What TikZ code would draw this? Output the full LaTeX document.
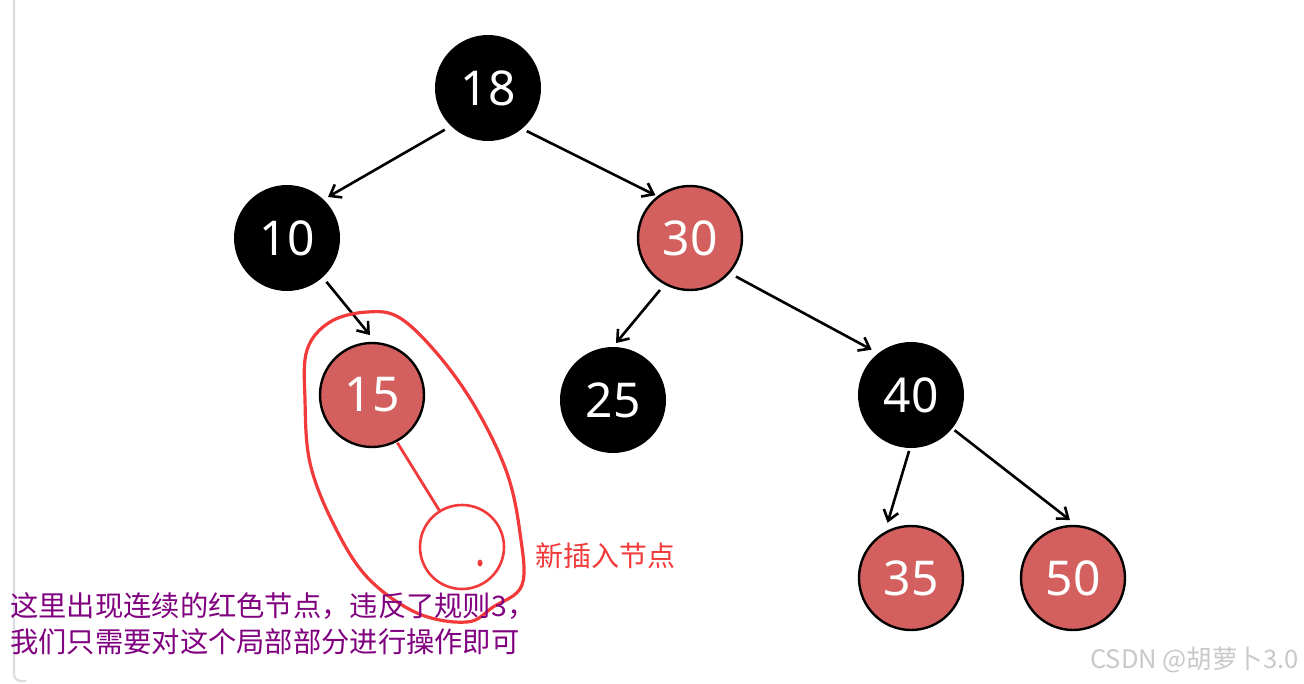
\documentclass[tikz,border=0pt]{standalone}
\usepackage{fontspec}
\setmainfont{Noto Sans}
\newfontfamily\cjk{Noto Sans CJK SC}
\usetikzlibrary{arrows.meta,calc}
\definecolor{nodered}{HTML}{D35F5F}
\definecolor{penred}{HTML}{F23A3A}
\definecolor{notepurple}{HTML}{800080}
\definecolor{marggray}{HTML}{DCDCE2}
\definecolor{wmgray}{HTML}{C9C9C9}
\begin{document}
\begin{tikzpicture}[x=1pt,y=-1pt,
  rbnode/.style={circle,minimum size=106pt,inner sep=0pt,font=\fontsize{48}{52}\selectfont,text=white},
  blk/.style={rbnode,fill=black},
  red/.style={rbnode,fill=nodered,draw=black,line width=2.4pt,minimum size=104pt},
  edge/.style={-{Straight Barb[length=10pt,width=15pt,line width=2.6pt]},line width=2.6pt,black},
  pen/.style={penred,line width=3.2pt}]
\useasboundingbox (0,0) rectangle (1304,683);
\fill[white] (0,0) rectangle (1304,683);
\draw[marggray,line width=2.2pt,rounded corners=7pt] (14,-5) -- (14,681) -- (26,681);
\node[blk] (n18) at (488,88) {18};
\node[blk] (n10) at (287,238) {10};
\node[red] (n30) at (690,238) {30};
\node[red] (n15) at (372,395) {15};
\node[blk] (n25) at (613,400) {25};
\node[blk] (n40) at (911,395) {40};
\node[red] (n35) at (911,578) {35};
\node[red] (n50) at (1073,578) {50};
\node[circle,draw=penred,line width=2.6pt,minimum size=84pt,inner sep=0pt] (nnew) at (462,547) {};
\fill[penred] (480,563) ellipse[x radius=2.5pt,y radius=3.5pt];
\draw[edge] ($(n18.center)!60pt!(n18.224)$) -- ($(n10.center)!58pt!(n10.45)$);
\draw[edge] ($(n18.center)!58pt!(n18.312)$) -- ($(n30.center)!55pt!(n30.129)$);
\draw[edge] ($(n10.center)!59pt!(n10.312)$) -- ($(n15.center)!60pt!(n15.92)$);
\draw[edge] ($(n30.center)!60pt!(n30.240)$) -- ($(n25.center)!57pt!(n25.87)$);
\draw[edge] ($(n30.center)!60pt!(n30.320)$) -- ($(n40.center)!60pt!(n40.131)$);
\draw[edge] ($(n40.center)!56pt!(n40.268)$) -- ($(n35.center)!60pt!(n35.113)$);
\draw[edge] ($(n40.center)!56pt!(n40.321)$) -- ($(n50.center)!58pt!(n50.93)$);
\draw[pen,line width=2.8pt] ($(n15.center)!54pt!(n15.298)$) -- (nnew);
\draw[pen] plot[smooth cycle,tension=0.6] coordinates {
 (307,350) (330,322) (367,312) (400,318) (440,357) (477,410) (507,473)
 (520,533) (522,585) (493,607) (467,622) (417,613) (367,577) (333,523)
 (310,463) (305,400)};
\node[anchor=west,text=penred,font=\cjk\fontsize{28}{30}\selectfont,inner sep=0pt] (lblnew) at (535,556) {新插入节点};
\node[anchor=north west,text=notepurple,font=\cjk\fontsize{28.3}{36}\selectfont,inner sep=0pt,align=left] (note) at (10,592) {这里出现连续的红色节点，违反了规则3，\\我们只需要对这个局部部分进行操作即可};
\node[anchor=east,text=wmgray,font=\cjk\fontsize{25.5}{28}\selectfont,inner sep=0pt] (wm) at (1299,660) {CSDN @胡萝卜3.0};
\end{tikzpicture}
\end{document}
